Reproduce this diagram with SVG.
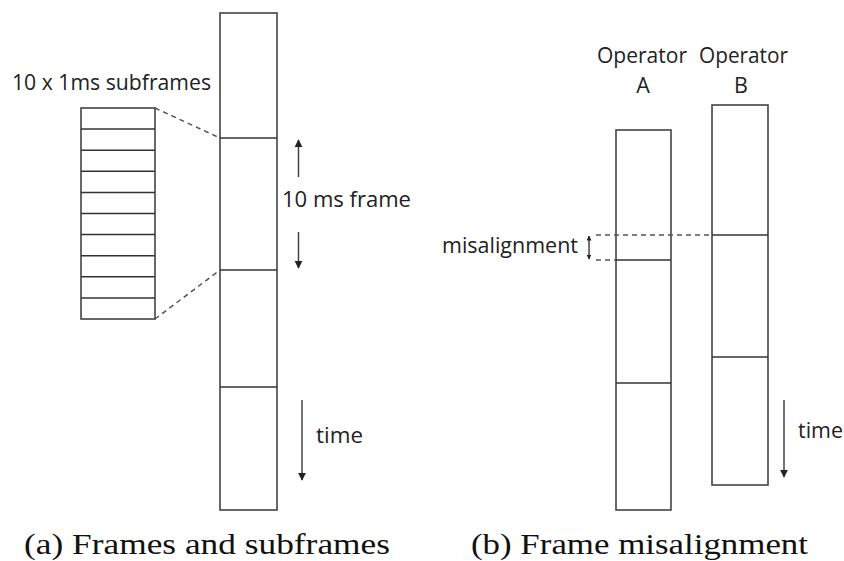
<svg xmlns="http://www.w3.org/2000/svg" width="844" height="561" viewBox="0 0 844 561">
<style>
.box{fill:none;stroke:#444;stroke-width:1.6}
.div{stroke:#333;stroke-width:1.5}
.dash{stroke:#555;stroke-width:1.5;stroke-dasharray:5,4;fill:none}
.arr{stroke:#444;stroke-width:1.5;fill:none}
.lbl{font-family:"Open Sans","Liberation Sans",sans-serif;font-size:21.5px;fill:#222}
.cap{font-family:"Liberation Serif","Times New Roman",serif;font-size:29px;fill:#111}
</style>
<defs>
<marker id="ah" viewBox="0 0 10 10" refX="9" refY="5" markerWidth="8" markerHeight="8" markerUnits="userSpaceOnUse" orient="auto-start-reverse">
<path d="M0,0 L10,5 L0,10 z" fill="#222"/>
</marker>
<marker id="ahs" viewBox="0 0 10 10" refX="9" refY="5" markerWidth="5" markerHeight="5" markerUnits="userSpaceOnUse" orient="auto-start-reverse">
<path d="M0,0 L10,5 L0,10 z" fill="#222"/>
</marker>
</defs>

<g id="frame-a">
<rect class="box" x="220" y="13" width="57" height="497"/>
<line class="div" x1="220" y1="138" x2="277" y2="138"/>
<line class="div" x1="220" y1="270" x2="277" y2="270"/>
<line class="div" x1="220" y1="387" x2="277" y2="387"/>
</g>

<g id="subframes">
<rect class="box" x="81" y="108" width="74" height="211"/>
<line class="div" x1="81" y1="129.1" x2="155" y2="129.1"/>
<line class="div" x1="81" y1="150.2" x2="155" y2="150.2"/>
<line class="div" x1="81" y1="171.3" x2="155" y2="171.3"/>
<line class="div" x1="81" y1="192.4" x2="155" y2="192.4"/>
<line class="div" x1="81" y1="213.5" x2="155" y2="213.5"/>
<line class="div" x1="81" y1="234.6" x2="155" y2="234.6"/>
<line class="div" x1="81" y1="255.7" x2="155" y2="255.7"/>
<line class="div" x1="81" y1="276.8" x2="155" y2="276.8"/>
<line class="div" x1="81" y1="297.9" x2="155" y2="297.9"/>
<text class="lbl" x="12" y="90" textLength="199" lengthAdjust="spacingAndGlyphs">10 x 1ms subframes</text>
</g>

<g id="operator-a">
<rect class="box" x="616" y="130" width="55" height="380"/>
<line class="div" x1="616" y1="260" x2="671" y2="260"/>
<line class="div" x1="616" y1="383" x2="671" y2="383"/>
<text class="lbl" x="642" y="63" text-anchor="middle" textLength="90" lengthAdjust="spacingAndGlyphs">Operator</text>
<text class="lbl" x="643" y="93" text-anchor="middle">A</text>
</g>

<g id="operator-b">
<rect class="box" x="712" y="105" width="56" height="380"/>
<line class="div" x1="712" y1="235" x2="768" y2="235"/>
<line class="div" x1="712" y1="357" x2="768" y2="357"/>
<text class="lbl" x="743.5" y="63" text-anchor="middle" textLength="89" lengthAdjust="spacingAndGlyphs">Operator</text>
<text class="lbl" x="741" y="93" text-anchor="middle">B</text>
</g>

<g id="connectors">
<line class="dash" x1="155" y1="108" x2="220" y2="138"/>
<line class="dash" x1="155" y1="319" x2="220" y2="270"/>
<line class="arr" x1="298.5" y1="177" x2="298.5" y2="140" marker-end="url(#ah)"/>
<line class="arr" x1="298.5" y1="232" x2="298.5" y2="268" marker-end="url(#ah)"/>
<line class="arr" x1="302" y1="400" x2="302" y2="480" marker-end="url(#ah)"/>
<line class="dash" x1="596" y1="235" x2="712" y2="235"/>
<line class="dash" x1="596" y1="260" x2="616" y2="260"/>
<line class="arr" x1="589" y1="236" x2="589" y2="259" marker-start="url(#ahs)" marker-end="url(#ahs)"/>
<line class="arr" x1="784" y1="400" x2="784" y2="477" marker-end="url(#ah)"/>
</g>

<g id="labels">
<text class="lbl" x="282" y="207" textLength="129" lengthAdjust="spacingAndGlyphs">10 ms  frame</text>
<text class="lbl" x="316" y="443" textLength="47" lengthAdjust="spacingAndGlyphs">time</text>
<text class="lbl" x="442" y="253" textLength="136" lengthAdjust="spacingAndGlyphs">misalignment</text>
<text class="lbl" x="798" y="438" textLength="45" lengthAdjust="spacingAndGlyphs">time</text>
<text class="cap" x="24" y="554" textLength="366" lengthAdjust="spacingAndGlyphs">(a) Frames and subframes</text>
<text class="cap" x="471" y="554" textLength="337" lengthAdjust="spacingAndGlyphs">(b) Frame misalignment</text>
</g>
</svg>
